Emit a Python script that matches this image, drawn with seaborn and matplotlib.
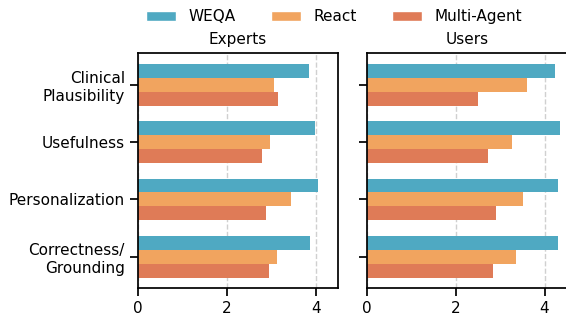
import matplotlib
matplotlib.use("Agg")
import matplotlib.pyplot as plt
import seaborn as sns
import pandas as pd

categories = ["Clinical\nPlausibility", "Usefulness", "Personalization", "Correctness/\nGrounding"]
methods = ["WEQA", "React", "Multi-Agent"]
panels = ["Experts", "Users"]

experts_weqa = [3.84, 3.99, 4.04, 3.88]
experts_react = [3.05, 2.96, 3.45, 3.12]
experts_multi = [3.14, 2.80, 2.87, 2.94]

users_weqa = [4.23, 4.35, 4.30, 4.30]
users_react = [3.60, 3.27, 3.51, 3.36]
users_multi = [2.50, 2.72, 2.91, 2.84]

colors = ["#4FA9C2", "#F1A45F", "#DF7B57"]

def frame(vals):
    rows = []
    for m, v in zip(methods, vals):
        for c, x in zip(categories, v):
            rows.append({"Category": c, "Method": m, "Score": x})
    return pd.DataFrame(rows)

data = {
    "Experts": frame([experts_weqa, experts_react, experts_multi]),
    "Users": frame([users_weqa, users_react, users_multi]),
}

sns.set_theme(style="ticks", context="notebook")
plt.rcParams["font.family"] = ["DejaVu Sans"]
plt.rcParams["text.color"] = "black"
plt.rcParams["xtick.color"] = "black"
plt.rcParams["ytick.color"] = "black"
plt.rcParams["axes.labelcolor"] = "black"

fig = plt.figure(figsize=(5.66, 3.18), dpi=100)
ax1 = fig.add_axes([0.2438, 0.0934, 0.3534, 0.739])
ax2 = fig.add_axes([0.6479, 0.0934, 0.3534, 0.739])

for ax, name in zip([ax1, ax2], panels):
    sns.barplot(data=data[name], y="Category", x="Score", hue="Method",
                hue_order=methods, order=categories, palette=colors,
                orient="h", width=0.73, saturation=1, errorbar=None,
                ax=ax, legend=False, linewidth=0)
    ax.set_xlim(0, 4.5)
    ax.set_ylim(3.55, -0.55)
    ax.set_xticks([0, 2, 4])
    ax.set_xlabel("")
    ax.set_ylabel("")
    ax.set_title(name, fontsize=11, pad=7, color="black")
    ax.grid(axis="x", linestyle="--", color="#d0d0d0", linewidth=1)
    ax.set_axisbelow(True)
    ax.tick_params(labelsize=11, colors="black")
    for s in ax.spines.values():
        s.set_visible(True)
        s.set_linewidth(1.25)
        s.set_color("black")

ax2.set_yticklabels([])

from matplotlib.patches import Patch
handles = [Patch(facecolor=c, label=m) for c, m in zip(colors, methods)]
fig.legend(handles=handles, loc="center", bbox_to_anchor=(0.59, 0.947),
           ncol=3, frameon=False, fontsize=11, handlelength=2.0,
           columnspacing=2.3, borderaxespad=0, borderpad=0)

fig.savefig("out.png", dpi=100)
